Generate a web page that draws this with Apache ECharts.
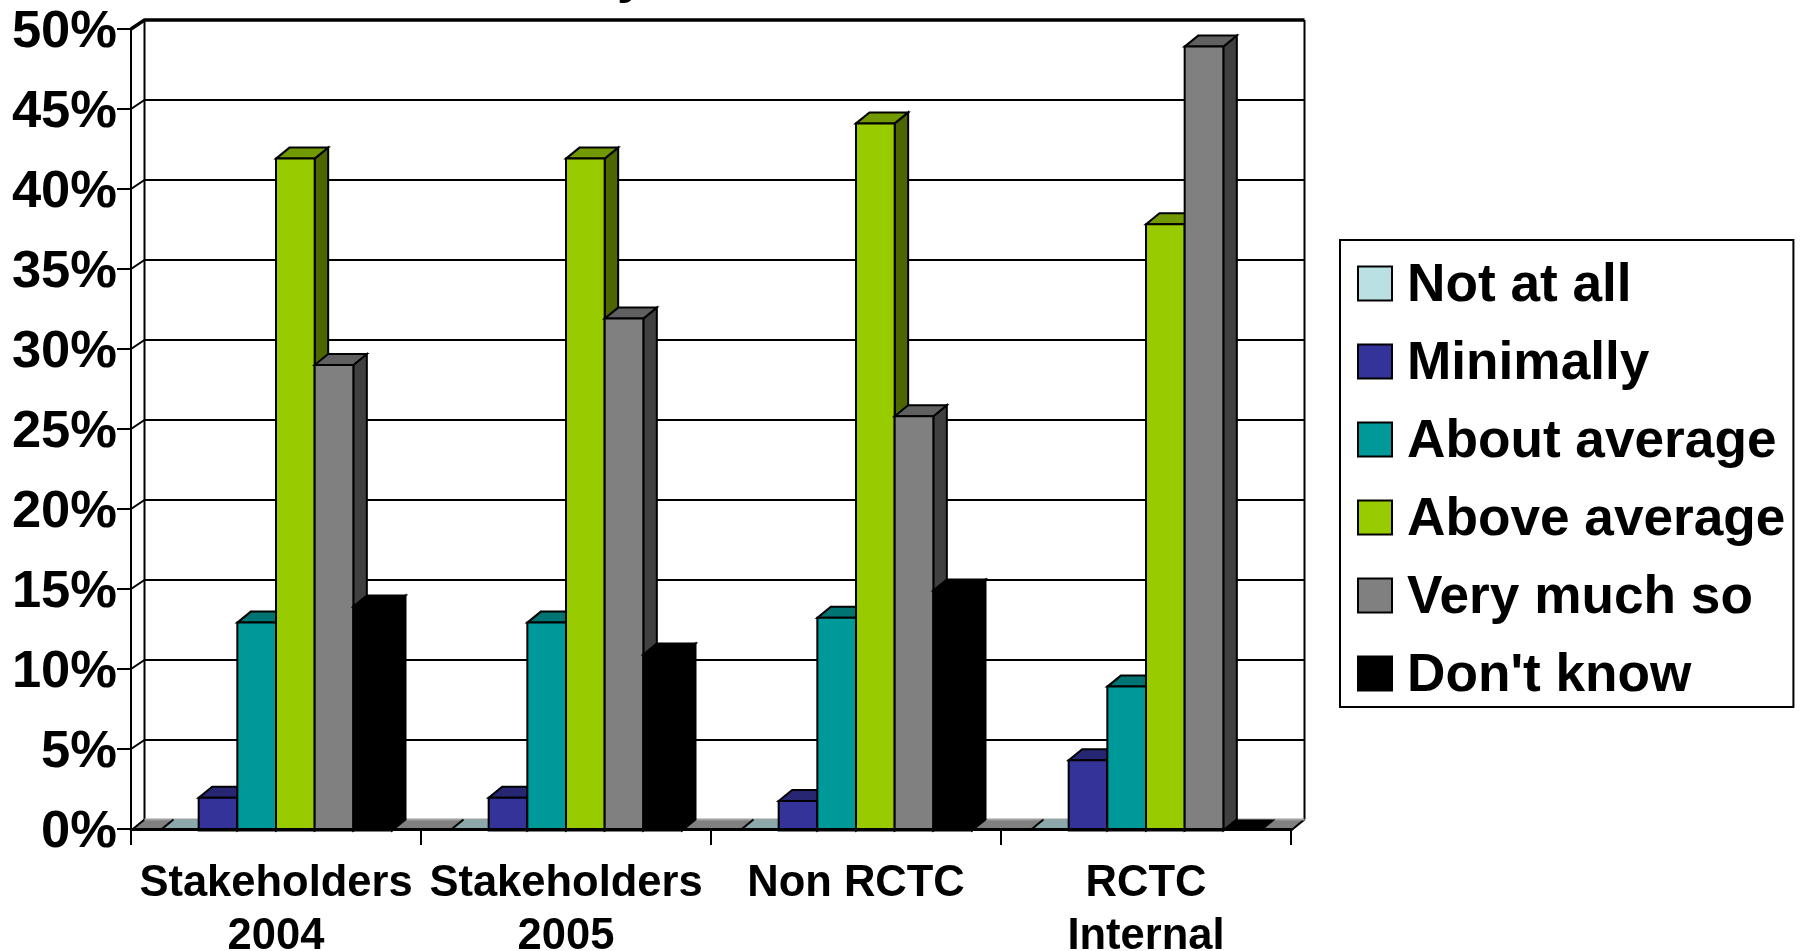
<!DOCTYPE html>
<html><head><meta charset="utf-8">
<style>html,body{margin:0;padding:0;background:#fff}#c{width:1800px;height:951px}</style>
<script src="https://cdn.jsdelivr.net/npm/echarts@6/dist/echarts.min.js"></script>
</head><body><div id="c"></div>
<script>
const categories = ['Stakeholders\n2004', 'Stakeholders\n2005', 'Non RCTC', 'RCTC\nInternal'];
const yTicks = [0, 5, 10, 15, 20, 25, 30, 35, 40, 45, 50];
const notAtAll = [0, 0, 0, 0];
const minimally = [1.95, 1.95, 1.75, 4.3];
const aboutAverage = [12.9, 12.9, 13.2, 8.9];
const aboveAverage = [41.9, 41.9, 44.1, 37.8];
const veryMuchSo = [29, 31.9, 25.8, 48.9];
const dontKnow = [13.9, 10.9, 14.9, 0];
const seriesNames = ['Not at all', 'Minimally', 'About average', 'Above average', 'Very much so', "Don't know"];
const seriesValues = [notAtAll, minimally, aboutAverage, aboveAverage, veryMuchSo, dontKnow];
const frontColors = ['#BBE0E3', '#333399', '#009999', '#99CC00', '#808080', '#000000'];
const topColors = ['#8CA8AA', '#262673', '#007373', '#739900', '#606060', '#000000'];
const sideColors = ['#5E7072', '#1A1A4D', '#004D4D', '#4D6600', '#404040', '#000000'];

const DX = 13.5, WALL_DY = 9, BAR_DY = 11, BASE_DROP = 1.5, FONT = '"Liberation Sans", Arial, sans-serif';

function renderWall(params, api) {
  const cs = params.coordSys;
  const v = api.value(0);
  const y = api.coord([0, v])[1];
  const x0 = cs.x, x1 = cs.x + cs.width;
  const kids = [];
  const isTop = v === yTicks[yTicks.length - 1];
  if (v === 0) {
    const f = y + BASE_DROP;
    kids.push({ type: 'polygon', shape: { points: [[x0, f], [x0 + DX, f - BAR_DY], [x1 + DX, f - BAR_DY], [x1, f]] },
      style: { fill: '#808080', stroke: null } });
    kids.push({ type: 'line', shape: { x1: x0 + DX, y1: cs.y - WALL_DY, x2: x0 + DX, y2: f - BAR_DY }, style: { stroke: '#000', lineWidth: 2 } });
    kids.push({ type: 'line', shape: { x1: x1 + DX, y1: cs.y - WALL_DY, x2: x1 + DX, y2: f - BAR_DY }, style: { stroke: '#000', lineWidth: 2 } });
    kids.push({ type: 'line', shape: { x1: x1, y1: f, x2: x1 + DX, y2: f - BAR_DY }, style: { stroke: '#000', lineWidth: 2 } });
    kids.push({ type: 'line', shape: { x1: x0, y1: f, x2: x0 + DX, y2: f - BAR_DY }, style: { stroke: '#000', lineWidth: 2 } });
    kids.push({ type: 'line', shape: { x1: x0 + DX, y1: f - BAR_DY, x2: x1 + DX, y2: f - BAR_DY }, style: { stroke: '#a0a0a0', lineWidth: 2 } });
  } else {
    kids.push({ type: 'polyline', shape: { points: [[x0, y], [x0 + DX, y - WALL_DY], [x1 + DX, y - WALL_DY]] },
      style: { fill: null, stroke: '#000', lineWidth: isTop ? 3.5 : 2 } });
  }
  return { type: 'group', children: kids };
}

function makeRender(si) {
  return function (params, api) {
    const cat = api.value(0), val = api.value(1);
    const base = api.coord([cat, 0]);
    const top = api.coord([cat, val]);
    const bw = api.size([1, 0])[0] / 7.5;
    const x = base[0] + (si - 3) * bw, r = x + bw, b = base[1] + BASE_DROP, t = top[1];
    const kids = [];
    const line = { stroke: '#000', lineWidth: 2, lineJoin: 'miter' };
    if (val === 0) {
      kids.push({ type: 'polygon', shape: { points: [[x, b], [x + DX, b - BAR_DY], [r + DX, b - BAR_DY], [r, b]] },
        style: { fill: topColors[si], stroke: null } });
      kids.push({ type: 'line', shape: { x1: x, y1: b, x2: x + DX, y2: b - BAR_DY }, style: { stroke: '#000', lineWidth: 2 } });
      return { type: 'group', children: kids };
    }
    kids.push({ type: 'polygon', shape: { points: [[r, t], [r + DX, t - BAR_DY], [r + DX, b - BAR_DY], [r, b]] },
      style: Object.assign({ fill: sideColors[si] }, line) });
    kids.push({ type: 'polygon', shape: { points: [[x, t], [x + DX, t - BAR_DY], [r + DX, t - BAR_DY], [r, t]] },
      style: Object.assign({ fill: topColors[si] }, line) });
    kids.push({ type: 'rect', shape: { x: x, y: t, width: bw, height: b - t },
      style: Object.assign({ fill: frontColors[si] }, line) });
    return { type: 'group', children: kids };
  };
}

const chart = echarts.init(document.getElementById('c'), null, { renderer: 'canvas' });
const series = [{
  type: 'custom', name: 'wall', silent: true, z: 1, clip: false,
  data: yTicks.map(v => [v]), encode: { y: 0 }, renderItem: renderWall
}];
seriesNames.forEach((n, si) => {
  series.push({
    type: 'custom', name: n, z: 2 + si, clip: false,
    itemStyle: { color: frontColors[si], borderColor: '#000', borderWidth: 2 },
    encode: { x: 0, y: 1 },
    data: seriesValues[si].map((v, i) => [i, v]),
    renderItem: makeRender(si)
  });
});

chart.setOption({
  animation: false,
  backgroundColor: '#fff',
  grid: { left: 131, right: 509, top: 29, bottom: 122, containLabel: false, outerBoundsMode: 'none' },
  xAxis: {
    type: 'category', data: categories, z: 20, boundaryGap: true,
    axisLine: { show: true, lineStyle: { color: '#000', width: 3 } },
    axisTick: { show: true, length: 16, lineStyle: { color: '#000', width: 2 } },
    axisLabel: { color: '#000', fontFamily: FONT, fontWeight: 'bold', fontSize: 43.5, lineHeight: 53, margin: 28, interval: 0, hideOverlap: false },
    splitLine: { show: false }
  },
  yAxis: {
    type: 'value', min: 0, max: 50, interval: 5, z: 20,
    axisLine: { show: true, lineStyle: { color: '#000', width: 2 } },
    axisTick: { show: true, length: 14, lineStyle: { color: '#000', width: 2 } },
    axisLabel: { color: '#000', fontFamily: FONT, fontWeight: 'bold', fontSize: 52.5, margin: 14, verticalAlign: 'top', lineHeight: 8, formatter: '{value}%', showMinLabel: true, showMaxLabel: true },
    splitLine: { show: false }
  },
  legend: {
    orient: 'vertical', left: 1340, top: 240, padding: [14.5, 8, 4.5, 17], itemGap: 20,
    itemWidth: 34, itemHeight: 34, backgroundColor: '#fff', borderColor: '#000', borderWidth: 2, borderRadius: 0,
    selectedMode: false,
    formatter: name => '{s| }{a|' + name + '}',
    textStyle: {
      color: '#000', fontFamily: FONT, fontWeight: 'bold', fontSize: 53.2,
      rich: {
        s: { width: 10, height: 58, lineHeight: 58, fontSize: 10 },
        a: { color: '#000', fontFamily: FONT, fontWeight: 'bold', fontSize: 53.2, lineHeight: 53, verticalAlign: 'bottom' }
      }
    },
    data: seriesNames.map((n, si) => ({ name: n, icon: 'rect', itemStyle: { color: frontColors[si], borderColor: '#000', borderWidth: 2 } }))
  },
  graphic: [
    { type: 'text', x: 479, y: -22, silent: true, style: { text: ',', font: 'bold 52px "Liberation Sans", Arial, sans-serif', fill: '#000', verticalAlign: 'middle' } },
    { type: 'text', x: 617, y: -22, silent: true, style: { text: 'y', font: 'bold 52px "Liberation Sans", Arial, sans-serif', fill: '#000', verticalAlign: 'middle' } }
  ],
  series: series
});
</script></body></html>
